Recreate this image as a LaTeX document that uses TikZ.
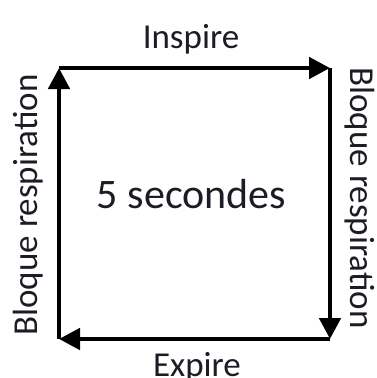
\documentclass[tikz,border=0pt]{standalone}
\usepackage{fontspec}
\setmainfont{Carlito}
\usetikzlibrary{arrows.meta}
\definecolor{txt}{HTML}{1C1C24}
\begin{document}
\begin{tikzpicture}[x=1pt,y=-1pt,
  flow/.style={line width=4.8pt,-{Triangle[length=21pt,width=21pt]}},
  edgelbl/.style={font=\fontsize{35}{40}\selectfont,text=txt,inner sep=0pt},
  centerlbl/.style={font=\fontsize{42}{48}\selectfont,text=txt,inner sep=0pt}]
\useasboundingbox (0,0) rectangle (377,378);
\coordinate (tl) at (59,68);
\coordinate (tr) at (330,68);
\coordinate (br) at (330,339);
\coordinate (bl) at (59,339);
\draw[flow] (tl) -- (tr);
\draw[flow] (tr) -- (br);
\draw[flow] (br) -- (bl);
\draw[flow] (bl) -- (tl);
\node[edgelbl,anchor=base] (insp) at (191,48) {Inspire};
\node[edgelbl,anchor=base] (exp) at (197,376) {Expire};
\node[edgelbl,anchor=base,rotate=90] (left) at (37,205) {Bloque respiration};
\node[edgelbl,anchor=base,rotate=-90] (right) at (350,198) {Bloque respiration};
\node[centerlbl,anchor=base] (mid) at (191.5,208) {5 secondes};
\end{tikzpicture}
\end{document}
